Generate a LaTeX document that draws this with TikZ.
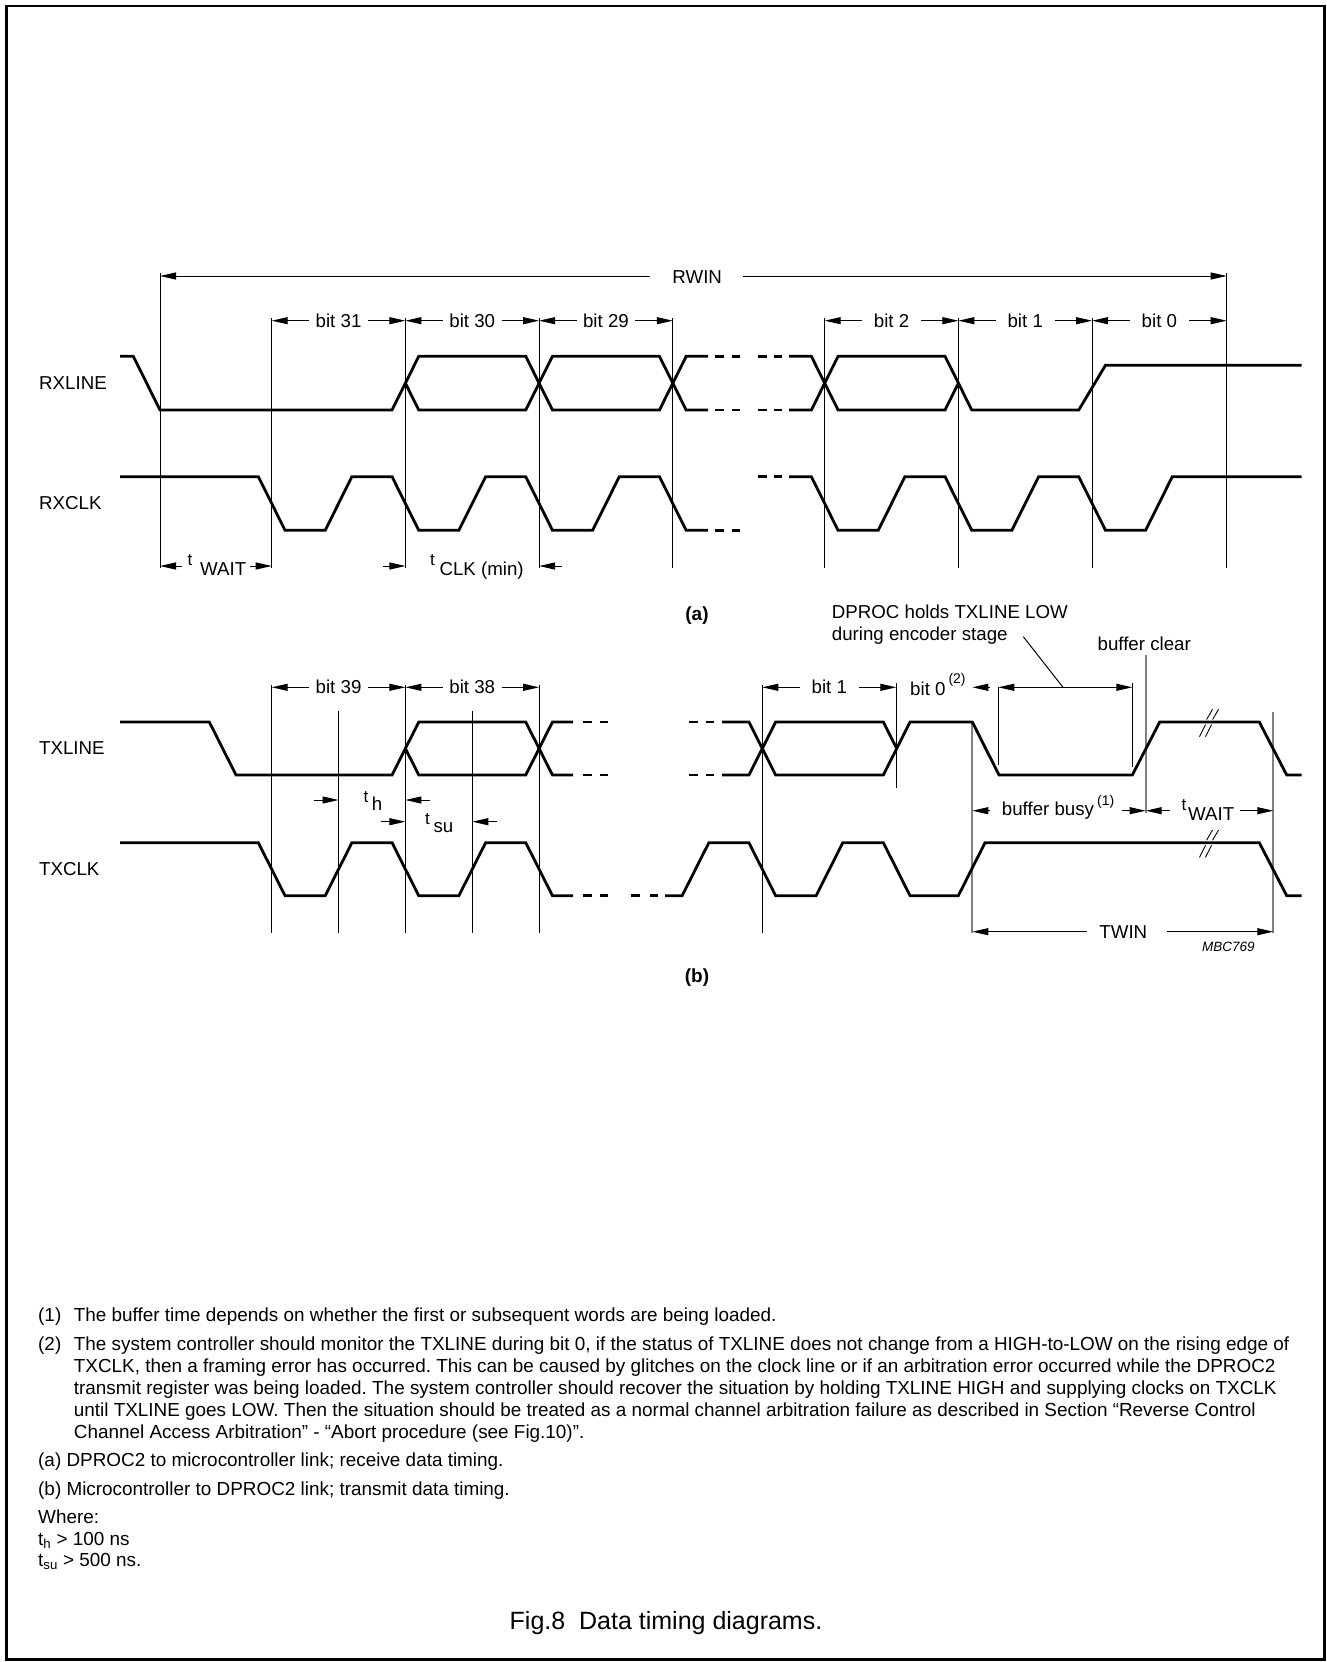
\documentclass[tikz,border=0pt]{standalone}
\usepackage{fontspec}
\setmainfont{Liberation Sans}
\usetikzlibrary{arrows.meta,calc}
\frenchspacing
\newcommand\bitspan[5]{%
  \coordinate (#1L) at (#2,#4);
  \coordinate (#1R) at (#3,#4);
  \node[lbl,anchor=base] (#1) at ($(#1L)!0.5!(#1R)+(0,6.6)$) {#5};
  \draw[arr] ([xshift=37.5pt]#1L) -- (#1L);
  \draw[arr] ([xshift=-37.5pt]#1R) -- (#1R);
}
\begin{document}
\begin{tikzpicture}[x=1pt,y=-1pt,
  sig/.style={line width=2.8pt, line join=miter, line cap=butt},
  thinl/.style={line width=1pt},
  greyline/.style={line width=1.8pt, draw=black!50},
  arr/.style={line width=1pt, -{Triangle[length=16pt,width=7pt]}},
  darr/.style={line width=1pt, {Triangle[length=16pt,width=7pt]}-{Triangle[length=16pt,width=7pt]}},
  lbl/.style={font=\fontsize{18.7}{22}\selectfont, inner sep=0pt},
  tlet/.style={font=\fontsize{17}{20}\selectfont, inner sep=0pt, anchor=base west},
  subtxt/.style={font=\fontsize{18.7}{22}\selectfont, inner sep=0pt, anchor=base west},
  suptxt/.style={font=\fontsize{14}{16}\selectfont, inner sep=0pt, anchor=base west},
  note/.style={font=\fontsize{18.9}{22}\selectfont, inner sep=0pt, anchor=base west},
  brk/.style={line width=0.9pt},
]
\useasboundingbox (0,0) rectangle (1327,1662);
\draw[line width=2.5pt] (6.5,6) rectangle (1324.5,1659.5);

% ================= (a) =================
\coordinate (rwL) at (160,276);
\coordinate (rwR) at (1226.7,276);
\node[lbl,anchor=base] (rwin) at (697.2,283) {RWIN};
\draw[arr] (650,276) -- (rwL);
\draw[arr] (742.7,276) -- (rwR);
\draw[thinl] (160,273) -- (160,567.7);
\draw[thinl] (1226.7,273) -- (1226.7,567.7);
\foreach \xx in {271.7,405.4,539.1,672.8,824.7,958.4,1092.1}
  \draw[thinl] (\xx,318) -- (\xx,567.7);
\bitspan{bA31}{271.7}{405.4}{320.7}{bit 31}
\bitspan{bA30}{405.4}{539.1}{320.7}{bit 30}
\bitspan{bA29}{539.1}{672.8}{320.7}{bit 29}
\bitspan{bA2}{824.7}{958.4}{320.7}{bit 2}
\bitspan{bA1}{958.4}{1092.1}{320.7}{bit 1}
\bitspan{bA0}{1092.1}{1226.7}{320.7}{bit 0}
\node[lbl,anchor=west] (rxline) at (39,383.2) {RXLINE};
\node[lbl,anchor=west] (rxclk) at (39,503.5) {RXCLK};
% RXLINE
\draw[sig] (120,356.3) -- (133.3,356.3) -- (160,410) -- (392.05,410) -- (418.75,356.3) -- (525.75,356.3) -- (552.45,410) -- (659.45,410) -- (686.15,356.3) -- (708,356.3);
\draw[sig] (405.4,383.15) -- (418.75,410) -- (525.75,410) -- (552.45,356.3) -- (659.45,356.3) -- (686.15,410) -- (708,410);
\foreach \yy in {356.3,410}{
  \draw[sig] (715,\yy) -- (724,\yy);
  \draw[sig] (732,\yy) -- (740,\yy);
  \draw[sig] (758,\yy) -- (767,\yy);
  \draw[sig] (774,\yy) -- (782,\yy);
}
\draw[sig] (789,356.3) -- (811.35,356.3) -- (838.05,410) -- (945.05,410) -- (958.4,383.15);
\draw[sig] (789,410) -- (811.35,410) -- (838.05,356.3) -- (945.05,356.3) -- (971.75,410) -- (1078.75,410) -- (1105.45,365.3) -- (1301.7,365.3);
% RXCLK
\draw[sig] (120,476.7) -- (258.35,476.7) -- (285.05,530.3) -- (325.2,530.3) -- (351.9,476.7) -- (392.05,476.7) -- (418.75,530.3) -- (458.9,530.3) -- (485.6,476.7) -- (525.75,476.7) -- (552.45,530.3) -- (592.6,530.3) -- (619.3,476.7) -- (659.45,476.7) -- (686.15,530.3) -- (708,530.3);
\draw[sig] (715,530.3) -- (724,530.3);
\draw[sig] (732,530.3) -- (740,530.3);
\draw[sig] (758,476.7) -- (767,476.7);
\draw[sig] (774,476.7) -- (782,476.7);
\draw[sig] (789,476.7) -- (811.35,476.7) -- (838.05,530.3) -- (878.2,530.3) -- (904.9,476.7) -- (945.05,476.7) -- (971.75,530.3) -- (1011.9,530.3) -- (1038.6,476.7) -- (1078.75,476.7) -- (1105.45,530.3) -- (1145.6,530.3) -- (1172.3,476.7) -- (1301.7,476.7);
% t WAIT / t CLK(min)
\draw[arr] (181.7,566) -- (160,566);
\draw[arr] (250,566) -- (271.7,566);
\node[tlet] (twa) at (187.3,565) {t};
\node[subtxt] (twa2) at (200,575) {WAIT};
\draw[arr] (383,566) -- (405.4,566);
\draw[arr] (561.7,566) -- (539.1,566);
\node[tlet] (tclk) at (430,565) {t};
\node[subtxt] (tclk2) at (439.3,575) {CLK (min)};
\node[font=\bfseries\fontsize{19}{22}\selectfont, inner sep=0pt, anchor=base] (capa) at (697,620) {(a)};

% ================= (b) =================
\node[lbl,anchor=west] (txline) at (39,748.5) {TXLINE};
\node[lbl,anchor=west] (txclk) at (39,869.2) {TXCLK};
\foreach \xx in {271.7,405.4,539.1,762.3}
  \draw[thinl] (\xx,685) -- (\xx,933.3);
\foreach \xx in {338.55,472.25}
  \draw[thinl] (\xx,711) -- (\xx,933.3);
\draw[thinl] (896.3,683) -- (896.3,788);
\draw[thinl] (998.3,687) -- (998.3,765);
\draw[thinl] (1132.3,683) -- (1132.3,767);
\draw[greyline] (972.3,721.7) -- (972.3,933.3);
\draw[greyline] (1145.7,655) -- (1145.7,813.3);
\draw[greyline] (1273.3,711.7) -- (1273.3,933.3);
\bitspan{bB39}{271.7}{405.4}{687.3}{bit 39}
\bitspan{bB38}{405.4}{539.1}{687.3}{bit 38}
\bitspan{bB1}{762.3}{896.3}{687.3}{bit 1}
\node[lbl,anchor=base west] (bB0) at (910,695) {bit 0};
\node[suptxt] (bB0n) at (948.3,683) {(2)};
\draw[arr] (990,687.3) -- (972.3,687.3);
\node[lbl,anchor=base west] (dp1) at (831.7,618.3) {DPROC holds TXLINE LOW};
\node[lbl,anchor=base west] (dp2) at (831.7,640) {during encoder stage};
\coordinate (ldA) at (1023.3,636.7);
\coordinate (ldB) at (1063,687.3);
\draw[thinl] (ldA) -- (ldB);
\draw[darr] (998.3,687.3) -- (1132.3,687.3);
\node[lbl,anchor=base] (bclr) at (1144.2,650) {buffer clear};
% TXLINE
\draw[sig] (120,722) -- (209.3,722) -- (236,775) -- (392.05,775) -- (418.75,722) -- (525.75,722) -- (552.45,775) -- (573,775);
\draw[sig] (405.4,748.5) -- (418.75,775) -- (525.75,775) -- (552.45,722) -- (573,722);
\foreach \yy in {722,775}{
  \draw[sig] (583,\yy) -- (592,\yy);
  \draw[sig] (600,\yy) -- (608,\yy);
  \draw[sig] (689,\yy) -- (698,\yy);
  \draw[sig] (706,\yy) -- (714,\yy);
}
\draw[sig] (722,722) -- (748.95,722) -- (775.65,775) -- (883.35,775) -- (910.05,722) -- (972.3,722) -- (999,775) -- (1132.3,775) -- (1159.7,722) -- (1259.3,722) -- (1286.7,775) -- (1301.7,775);
\draw[sig] (722,775) -- (748.95,775) -- (775.65,722) -- (883.35,722) -- (896.7,748.5);
% TXCLK
\draw[sig] (120,842.7) -- (258.35,842.7) -- (285.05,895.7) -- (325.2,895.7) -- (351.9,842.7) -- (392.05,842.7) -- (418.75,895.7) -- (458.9,895.7) -- (485.6,842.7) -- (525.75,842.7) -- (552.45,895.7) -- (573,895.7);
\draw[sig] (583,895.7) -- (592,895.7);
\draw[sig] (600,895.7) -- (608,895.7);
\draw[sig] (631,895.7) -- (640,895.7);
\draw[sig] (650,895.7) -- (658,895.7);
\draw[sig] (665,895.7) -- (682.15,895.7) -- (708.85,842.7) -- (748.95,842.7) -- (775.65,895.7) -- (816.1,895.7) -- (842.8,842.7) -- (883.35,842.7) -- (910.05,895.7) -- (958.3,895.7) -- (985,842.7) -- (1259.3,842.7) -- (1286.7,895.7) -- (1301.7,895.7);
% break marks
\foreach \yy in {722,842.7}{
  \draw[brk] (1199.5,\yy+14.7) -- (1205.6,\yy+2.5);
  \draw[brk] (1206.6,\yy-2.5) -- (1212.5,\yy-12.7);
  \draw[brk] (1205.5,\yy+14.7) -- (1211.6,\yy+2.5);
  \draw[brk] (1212.6,\yy-2.5) -- (1218.5,\yy-12.7);
}
% t_h, t_su
\draw[arr] (314.3,800) -- (338.55,800);
\draw[arr] (430,800) -- (405.4,800);
\node[tlet] (th1) at (363.3,802) {t};
\node[subtxt] (th2) at (371.7,810) {h};
\draw[arr] (381,821.7) -- (405.4,821.7);
\draw[arr] (496.7,821.7) -- (472.25,821.7);
\node[tlet] (tsu1) at (425,824) {t};
\node[subtxt] (tsu2) at (433.3,832) {su};
% buffer busy / t WAIT
\draw[arr] (990,810.7) -- (972.3,810.7);
\node[lbl,anchor=base west] (bbusy) at (1001.7,815) {buffer busy};
\node[suptxt] (bbn) at (1097,805) {(1)};
\draw[arr] (1121.7,810.7) -- (1145.7,810.7);
\draw[arr] (1170,810.7) -- (1145.7,810.7);
\node[tlet] (twb) at (1181.5,810.7) {t};
\node[subtxt] (twb2) at (1188,820.7) {WAIT};
\draw[arr] (1240,810.7) -- (1273.3,810.7);
% TWIN
\node[lbl,anchor=base] (twin) at (1123.3,938.3) {TWIN};
\draw[arr] (1086.7,931.7) -- (972.3,931.7);
\draw[arr] (1166.7,931.7) -- (1273.3,931.7);
\node[font=\itshape\fontsize{13.5}{16}\selectfont, inner sep=0pt, anchor=base west] (mbc) at (1202,951.7) {MBC769};
\node[font=\bfseries\fontsize{19}{22}\selectfont, inner sep=0pt, anchor=base] (capb) at (697,982) {(b)};

% ================= notes =================
\node[note] (n1a) at (38,1321.7) {(1)};
\node[note] (n1b) at (73.7,1321.7) {The buffer time depends on whether the first or subsequent words are being loaded.};
\node[note] (n2a) at (38,1350) {(2)};
\node[note] (n2b) at (73.7,1350) {The system controller should monitor the TXLINE during bit 0, if the status of TXLINE does not change from a HIGH-to-LOW on the rising edge of};
\node[note] (n2c) at (73.7,1372.2) {TXCLK, then a framing error has occurred. This can be caused by glitches on the clock line or if an arbitration error occurred while the DPROC2};
\node[note] (n2d) at (73.7,1394.4) {transmit register was being loaded. The system controller should recover the situation by holding TXLINE HIGH and supplying clocks on TXCLK};
\node[note] (n2e) at (73.7,1416.6) {until TXLINE goes LOW. Then the situation should be treated as a normal channel arbitration failure as described in Section “Reverse Control};
\node[note] (n2f) at (73.7,1438.8) {Channel Access Arbitration” - “Abort procedure (see Fig.10)”.};
\node[note] (na) at (38,1466.6) {(a) DPROC2 to microcontroller link; receive data timing.};
\node[note] (nb) at (38,1495) {(b) Microcontroller to DPROC2 link; transmit data timing.};
\node[note] (nw) at (38,1523) {Where:};
\node[note] (nth) at (38,1545) {t\textsubscript{h} > 100 ns};
\node[note] (ntsu) at (38,1566.7) {t\textsubscript{su} > 500 ns.};
\node[font=\fontsize{25}{30}\selectfont, inner sep=0pt, anchor=base] (cap) at (666,1629) {Fig.8\ \ Data timing diagrams.};
\end{tikzpicture}
\end{document}
